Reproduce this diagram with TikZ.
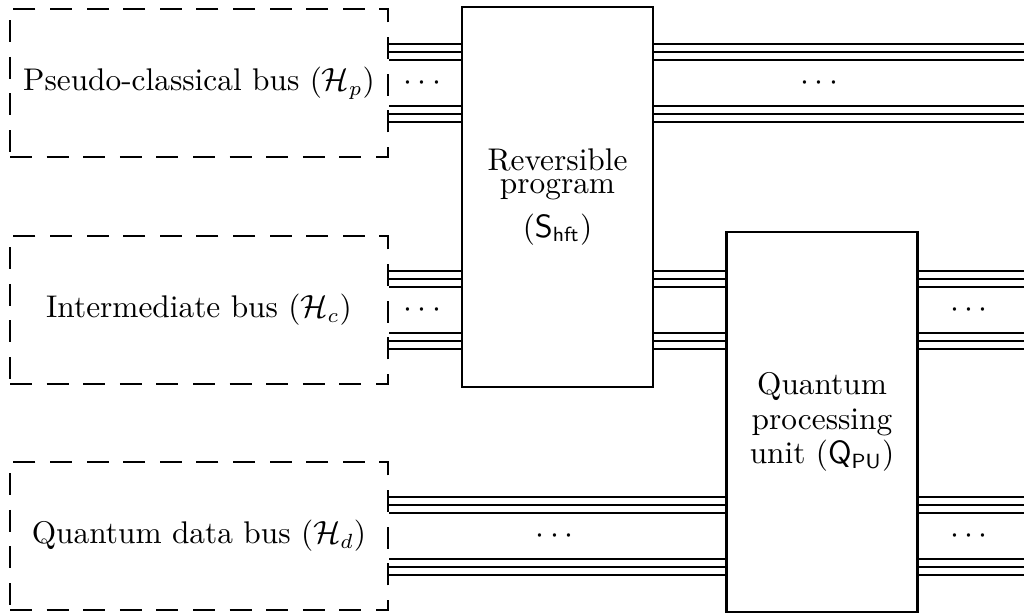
\documentclass[tikz,border=0pt]{standalone}
\usepackage{tikz}
\usetikzlibrary{calc, positioning}
\usepackage{amsmath, amssymb}

\begin{document}
\begin{tikzpicture}[
  every node/.style={font=\fontsize{10.7}{11.8}\selectfont},
  busbox/.style={draw, dash pattern=on 7.5pt off 5pt, line width=1pt, minimum width=4.536cm, minimum height=1.776cm, inner sep=0pt},
  unitbox/.style={draw, line width=1pt, minimum width=2.292cm, minimum height=4.56cm, align=center, inner sep=0pt},
  wire/.style={line width=1pt}
]
  \useasboundingbox (0,0) rectangle (12.288,7.368);
  \coordinate (rightend) at (12.288,0);

  % Buses
  \node[busbox] (pcbus) at (2.388,6.372) {Pseudo-classical bus ($\mathcal{H}_p$)};
  \node[busbox] (imbus) at (2.388,3.648) {Intermediate bus ($\mathcal{H}_c$)};
  \node[busbox] (qdbus) at (2.388,0.936) {Quantum data bus ($\mathcal{H}_d$)};

  % Units
  \node[unitbox] (rev) at (6.69,5.004) {Reversible\\[-4pt]program\\[3pt]($\mathsf{S}_{\mathsf{hft}}$)};
  \node[unitbox] (qpu) at (9.864,2.304) {Quantum\\processing\\unit ($\mathsf{Q}_{\mathsf{PU}}$)};

  % Wires, three per half
  \foreach \dy in {-0.468,-0.372,-0.276,0.276,0.372,0.468} {
    \draw[wire] ($(pcbus.east)+(0,\dy)$) -- ($(rev.west |- pcbus.east)+(0,\dy)$);
    \draw[wire] ($(rev.east |- pcbus.east)+(0,\dy)$) -- ($(rightend |- pcbus.east)+(0,\dy)$);
    \draw[wire] ($(imbus.east)+(0,\dy)$) -- ($(rev.west |- imbus.east)+(0,\dy)$);
    \draw[wire] ($(rev.east |- imbus.east)+(0,\dy)$) -- ($(qpu.west |- imbus.east)+(0,\dy)$);
    \draw[wire] ($(qpu.east |- imbus.east)+(0,\dy)$) -- ($(rightend |- imbus.east)+(0,\dy)$);
    \draw[wire] ($(qdbus.east)+(0,\dy)$) -- ($(qpu.west |- qdbus.east)+(0,\dy)$);
    \draw[wire] ($(qpu.east |- qdbus.east)+(0,\dy)$) -- ($(rightend |- qdbus.east)+(0,\dy)$);
  }

  % Dots
  \node (pcdotsa) at ($(pcbus.east)!0.5!(rev.west |- pcbus.east)$) {$\cdots$};
  \node (pcdotsb) at (qpu |- pcbus.east) {$\cdots$};
  \node (imdotsa) at ($(imbus.east)!0.5!(rev.west |- imbus.east)$) {$\cdots$};
  \node (imdotsb) at ($(qpu.east |- imbus.east)!0.5!(rightend |- imbus.east)$) {$\cdots$};
  \node (qddotsa) at ($(qdbus.east)!0.5!(qpu.west |- qdbus.east)$) {$\cdots$};
  \node (qddotsb) at ($(qpu.east |- qdbus.east)!0.5!(rightend |- qdbus.east)$) {$\cdots$};
\end{tikzpicture}
\end{document}
